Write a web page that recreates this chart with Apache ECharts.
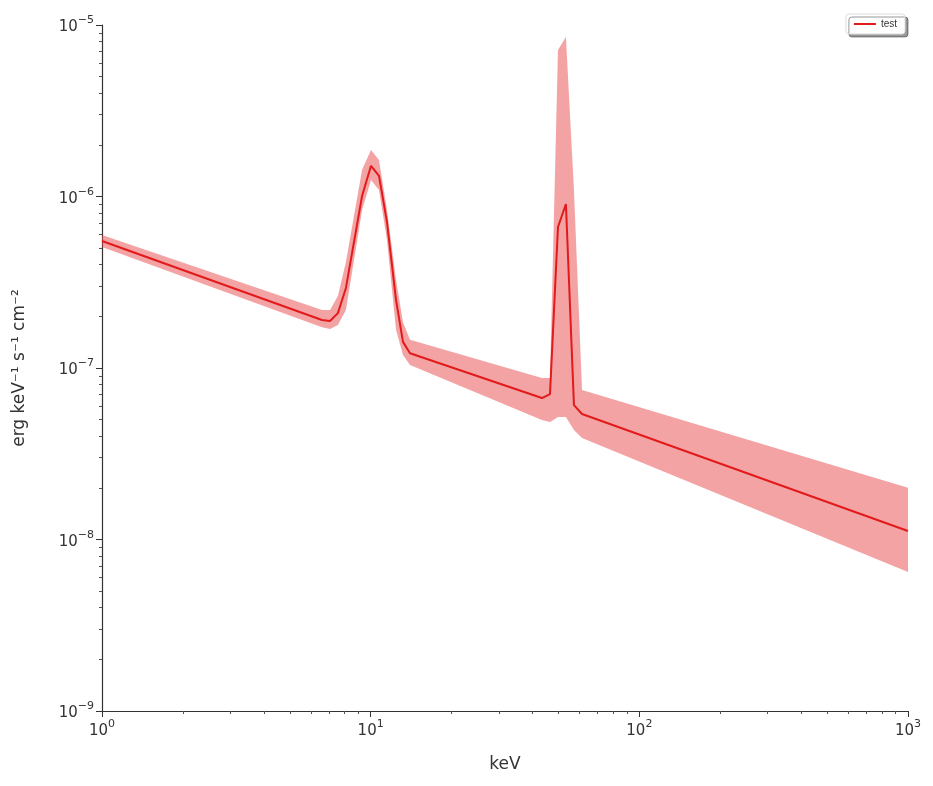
<!DOCTYPE html><html><head><meta charset="utf-8"><script src="https://cdn.jsdelivr.net/npm/echarts@6/dist/echarts.min.js"></script></head><body style="margin:0"><div id="c" style="width:933px;height:786px"></div><script>
const energy=[1,6.59,7.06,7.55,8.09,9.29,10.03,10.74,11.5,12.43,13.19,14.01,43.4,46.5,49.8,53.3,57.1,61.2,1000];
const median=[5.5e-7,1.905e-7,1.88e-7,2.09e-7,2.93e-7,1.007e-6,1.51e-6,1.32e-6,7.1e-7,2.49e-7,1.42e-7,1.22e-7,6.68e-8,7.05e-8,6.64e-7,9.04e-7,6.08e-8,5.39e-8,1.12e-8];
const upper=[5.96e-7,2.18e-7,2.18e-7,2.63e-7,4.15e-7,1.43e-6,1.87e-6,1.63e-6,8.34e-7,3.26e-7,1.85e-7,1.46e-7,8.74e-8,8.74e-8,7.15e-6,8.51e-6,1.09e-6,7.44e-8,2.0e-8];
const lower=[5.08e-7,1.73e-7,1.69e-7,1.78e-7,2.18e-7,8.34e-7,1.25e-6,1.09e-6,5.58e-7,1.67e-7,1.19e-7,1.04e-7,4.98e-8,4.84e-8,5.18e-8,5.18e-8,4.35e-8,3.91e-8,6.46e-9];
function fmt(v){const e=Math.round(Math.log10(v));return '{b|10}{s|'+(e<0?'−':'')+Math.abs(e)+'}';}
const rich={b:{fontSize:15,color:'#333',fontFamily:'DejaVu Sans',verticalAlign:'bottom'},s:{fontSize:11,color:'#333',fontFamily:'DejaVu Sans',padding:[0,0,9,0]}};
const ch=echarts.init(document.getElementById('c'));
const axCommon={axisLine:{lineStyle:{color:'#333',width:1.2}},axisTick:{inside:false,length:6,lineStyle:{color:'#333'}},minorTick:{show:true,splitNumber:9,length:3,lineStyle:{color:'#555'}},splitLine:{show:false},axisLabel:{color:'#333',fontSize:15,fontFamily:'DejaVu Sans',formatter:fmt,rich:rich},nameTextStyle:{color:'#333',fontSize:17,fontFamily:'DejaVu Sans'}};
ch.setOption({animation:false,
grid:{left:102,right:25,top:25,bottom:75},
legend:{right:28,top:14,data:[{name:'test',icon:'path://M0,0H22V2H0Z'}],itemWidth:22,itemHeight:2,textStyle:{fontSize:10,color:'#333'},backgroundColor:'#fff',borderColor:'#ddd',borderWidth:1,borderRadius:3,padding:[5,8],shadowColor:'rgba(0,0,0,0.4)',shadowOffsetX:3,shadowOffsetY:3,shadowBlur:0},
xAxis:Object.assign({type:'log',min:1,max:1000,logBase:10,name:'keV',nameLocation:'middle',nameGap:45},axCommon),
yAxis:Object.assign({type:'log',min:1e-9,max:1e-5,logBase:10,name:'erg keV⁻¹ s⁻¹ cm⁻²',nameLocation:'middle',nameGap:74},axCommon),
series:[
{type:'custom',name:'band',silent:true,data:[0],renderItem:function(p,api){const pts=[];for(let i=0;i<energy.length;i++)pts.push(api.coord([energy[i],upper[i]]));for(let i=energy.length-1;i>=0;i--)pts.push(api.coord([energy[i],lower[i]]));return {type:'polygon',shape:{points:pts},style:{fill:'rgba(232,72,72,0.5)'}};},z:1},
{type:'line',name:'test',data:energy.map((e,i)=>[e,median[i]]),showSymbol:false,lineStyle:{color:'#e31a1c',width:2},itemStyle:{color:'#e31a1c'},z:2}
]});
</script></body></html>
